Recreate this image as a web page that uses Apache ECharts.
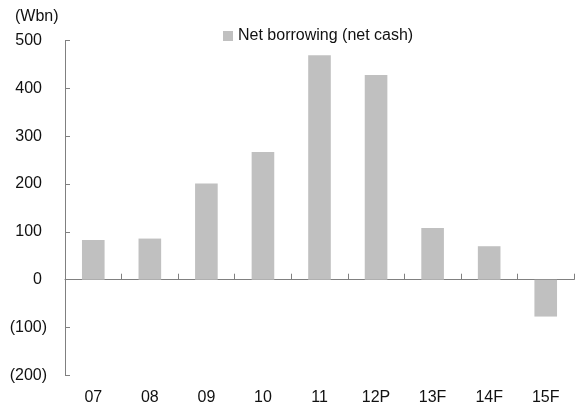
<!DOCTYPE html>
<html>
<head>
<meta charset="utf-8">
<script src="https://cdn.jsdelivr.net/npm/echarts@6/dist/echarts.min.js"></script>
<style>
  html, body { margin: 0; padding: 0; background: #fff; }
  #chart { width: 577px; height: 412px; }
</style>
</head>
<body>
<div id="chart"></div>
<script>
// Net borrowing by year (Wbn); negative = net cash
const categories = ['07', '08', '09', '10', '11', '12P', '13F', '14F', '15F'];
const netBorrowing = [83, 86, 201, 267, 469, 428, 108, 70, -77];
const yTicks = { min: -200, max: 500, interval: 100 };

const FONT = '"Liberation Sans Narrow", "Arial Narrow", "Liberation Sans", Arial, sans-serif';
const AXIS = '#808080';

// accounting style: negatives in parentheses, positives padded to line up
const fmt = v => v < 0 ? '(' + Math.abs(v) + ')' : '{pad|' + v + '}';

const chart = echarts.init(document.getElementById('chart'), null, { renderer: 'canvas' });
chart.setOption({
  animation: false,
  backgroundColor: '#fff',
  textStyle: { fontFamily: FONT },
  grid: { left: 65, right: 3, top: 40.5, bottom: 36.6, containLabel: false },
  legend: {
    data: ['Net borrowing (net cash)'],
    left: 218, top: 23,
    icon: 'rect', itemWidth: 10, itemHeight: 10, itemGap: 5,
    textStyle: { fontFamily: FONT, fontSize: 16, color: '#111' }
  },
  graphic: [{
    type: 'text', left: 15, top: 9,
    style: { text: '(Wbn)', font: '16px ' + FONT, fill: '#111' }
  }],
  xAxis: [{
    type: 'category', data: categories,
    axisLine: { onZero: true, lineStyle: { color: AXIS, width: 1 } },
    axisTick: { show: true, inside: true, length: 6, alignWithLabel: false, lineStyle: { color: AXIS } },
    axisLabel: { show: false },
    splitLine: { show: false }
  }, {
    type: 'category', data: categories, position: 'bottom',
    axisLine: { show: false, onZero: false },
    axisTick: { show: false },
    axisLabel: { margin: 14, fontFamily: FONT, fontSize: 16, color: '#111' },
    splitLine: { show: false }
  }],
  yAxis: {
    type: 'value', min: yTicks.min, max: yTicks.max, interval: yTicks.interval,
    axisLine: { show: true, lineStyle: { color: AXIS, width: 1 } },
    axisTick: { show: true, inside: true, length: 5, lineStyle: { color: AXIS } },
    axisLabel: {
      margin: 18, fontFamily: FONT, fontSize: 16, color: '#111', formatter: fmt,
      rich: { pad: { fontFamily: FONT, fontSize: 16, color: '#111', padding: [0, 5, 0, 0] } }
    },
    splitLine: { show: false }
  },
  series: [{
    name: 'Net borrowing (net cash)',
    type: 'bar', data: netBorrowing, xAxisIndex: 0,
    barWidth: '40%',
    itemStyle: { color: '#c0c0c0' }
  }]
});
</script>
</body>
</html>
